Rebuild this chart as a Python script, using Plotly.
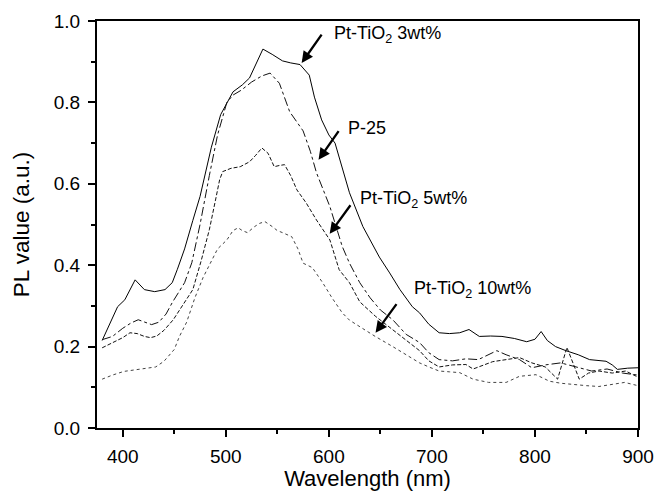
import plotly.graph_objects as go

# ---- data ----
wl_3wt = [380, 388, 395, 402, 412, 421, 431, 441, 448, 453, 460, 468, 475, 486, 495, 507, 516, 523, 530, 536,
          545, 555, 563, 572, 581, 586, 593, 600, 606, 612, 620, 633, 649, 659, 669, 681, 688, 697, 707, 717,
          727, 736, 746, 757, 768, 780, 792, 800, 806, 812, 820, 830, 842, 853, 861, 869, 875, 880, 890, 900]
pl_3wt = [0.215, 0.26, 0.298, 0.315, 0.364, 0.34, 0.335, 0.34, 0.357, 0.39, 0.44, 0.51, 0.569, 0.69, 0.77, 0.826,
          0.843, 0.86, 0.897, 0.931, 0.918, 0.902, 0.897, 0.893, 0.867, 0.813, 0.757, 0.72, 0.70, 0.65, 0.578,
          0.495, 0.42, 0.381, 0.34, 0.298, 0.283, 0.255, 0.234, 0.232, 0.234, 0.242, 0.225, 0.226, 0.225, 0.22,
          0.212, 0.218, 0.237, 0.215, 0.2, 0.19, 0.18, 0.168, 0.166, 0.164, 0.155, 0.144, 0.147, 0.148]

wl_p25 = [380, 390, 400, 408, 415, 421, 428, 435, 442, 448, 455, 460, 467, 475, 484, 492, 501, 507, 515, 525,
          535, 543, 552, 562, 575, 582, 588, 601, 613, 620, 630, 640, 650, 662, 675, 688, 697, 707, 720, 733,
          745, 755, 763, 772, 785, 797, 810, 825, 840, 855, 870, 885, 900]
pl_p25 = [0.217, 0.225, 0.245, 0.258, 0.266, 0.26, 0.254, 0.26, 0.28, 0.308, 0.335, 0.357, 0.406, 0.5, 0.62,
          0.72, 0.80, 0.818, 0.83, 0.85, 0.865, 0.872, 0.847, 0.777, 0.73, 0.68, 0.627, 0.544, 0.446, 0.405,
          0.357, 0.32, 0.29, 0.266, 0.23, 0.21, 0.185, 0.168, 0.165, 0.17, 0.168, 0.18, 0.19, 0.18, 0.168,
          0.148, 0.155, 0.16, 0.15, 0.14, 0.145, 0.135, 0.13]

wl_5wt = [380, 390, 400, 407, 414, 421, 427, 433, 440, 449, 458, 468, 476, 484, 490, 494, 497, 505, 514, 523,
          529, 535, 541, 547, 552, 557, 563, 569, 578, 588, 601, 610, 620, 630, 645, 662, 675, 688, 697, 707,
          720, 733, 740, 750, 759, 772, 785, 797, 810, 822, 831, 843, 852, 862, 875, 888, 900]
pl_5wt = [0.197, 0.21, 0.222, 0.234, 0.232, 0.225, 0.222, 0.226, 0.24, 0.266, 0.3, 0.34, 0.41, 0.487, 0.56,
          0.61, 0.63, 0.638, 0.642, 0.654, 0.67, 0.688, 0.675, 0.642, 0.645, 0.647, 0.62, 0.585, 0.553, 0.511,
          0.462, 0.389, 0.357, 0.31, 0.275, 0.242, 0.215, 0.19, 0.165, 0.15, 0.155, 0.156, 0.145, 0.155, 0.163,
          0.168, 0.173, 0.16, 0.15, 0.12, 0.198, 0.12, 0.135, 0.14, 0.135, 0.14, 0.125]

wl_10wt = [380, 390, 401, 412, 423, 432, 440, 450, 455, 462, 470, 478, 484, 492, 501, 507, 512, 516, 521, 528,
           533, 538, 545, 550, 555, 564, 570, 575, 584, 594, 603, 613, 620, 630, 645, 662, 675, 688, 697, 707,
           717, 727, 740, 755, 772, 785, 801, 814, 825, 836, 850, 862, 875, 887, 900]
pl_10wt = [0.12, 0.13, 0.139, 0.143, 0.148, 0.15, 0.164, 0.193, 0.225, 0.26, 0.32, 0.37, 0.4, 0.44, 0.462,
           0.485, 0.492, 0.485, 0.48, 0.495, 0.503, 0.507, 0.495, 0.485, 0.48, 0.47, 0.44, 0.405, 0.394, 0.357,
           0.32, 0.283, 0.265, 0.249, 0.225, 0.2, 0.18, 0.16, 0.15, 0.14, 0.138, 0.136, 0.12, 0.112, 0.112,
           0.127, 0.131, 0.115, 0.11, 0.107, 0.104, 0.102, 0.108, 0.112, 0.104]

labels = ["Pt-TiO<sub>2</sub> 3wt%", "P-25", "Pt-TiO<sub>2</sub> 5wt%", "Pt-TiO<sub>2</sub> 10wt%"]
x_ticks = [400, 500, 600, 700, 800, 900]
y_ticks = [0.0, 0.2, 0.4, 0.6, 0.8, 1.0]

# annotation anchor points (data coords): label position, arrow tip, arrow tail
label_pos = [(602.7, 0.966), (616.3, 0.737), (628.0, 0.561), (680.2, 0.34)]
arrow_tip = [(573.6, 0.897), (590.0, 0.659), (600.8, 0.477), (645.3, 0.234)]
arrow_tail = [(594.0, 0.970), (610.5, 0.733), (622.0, 0.551), (666.7, 0.308)]

FONT = "Liberation Sans, Arial, Helvetica, sans-serif"

fig = go.Figure()
series = [
    (wl_3wt, pl_3wt, "solid", "#000000"),
    (wl_p25, pl_p25, "dashdot", "#111111"),
    (wl_5wt, pl_5wt, "4px,2px", "#111111"),
    (wl_10wt, pl_10wt, "dot", "#444444"),
]
for (x, y, dash, col), name in zip(series, labels):
    fig.add_trace(go.Scatter(x=x, y=y, mode="lines", name=name,
                             line=dict(color=col, width=1, dash=dash), showlegend=False))

for txt, (lx, ly), (tx, ty), (ax, ay) in zip(labels, label_pos, arrow_tip, arrow_tail):
    fig.add_annotation(x=lx, y=ly, text=txt, showarrow=False, xanchor="left", yanchor="middle",
                       font=dict(family=FONT, size=18, color="#000"))
    fig.add_annotation(x=tx, y=ty, ax=ax, ay=ay, axref="x", ayref="y", text="",
                       showarrow=True, arrowhead=2, arrowsize=1.0, arrowwidth=2.3, arrowcolor="#000")

axis_common = dict(showline=True, linecolor="#000", linewidth=2, mirror=True,
                   ticks="outside", ticklen=7, tickwidth=1.5, tickcolor="#000",
                   showgrid=False, zeroline=False, automargin=False,
                   tickfont=dict(family=FONT, size=19, color="#000"))

fig.update_xaxes(range=[375, 900], tickvals=x_ticks, ticklabelstandoff=3,
                 minor=dict(ticks="outside", ticklen=4, tickwidth=1.5, tickcolor="#000", dtick=50, tick0=350),
                 title=dict(text="Wavelength (nm)", font=dict(family=FONT, size=22, color="#000"), standoff=8),
                 **axis_common)
fig.update_yaxes(range=[0, 1.0], tickvals=y_ticks, tickformat=".1f", ticklabelstandoff=4,
                 minor=dict(ticks="outside", ticklen=4, tickwidth=1.5, tickcolor="#000", dtick=0.1, tick0=0),
                 title=dict(text="PL value (a.u.)", font=dict(family=FONT, size=22.5, color="#000"), standoff=18),
                 **axis_common)

fig.update_layout(width=657, height=491, margin=dict(l=97, r=19, t=21, b=63),
                  paper_bgcolor="white", plot_bgcolor="white")

fig.write_html("out.html")
